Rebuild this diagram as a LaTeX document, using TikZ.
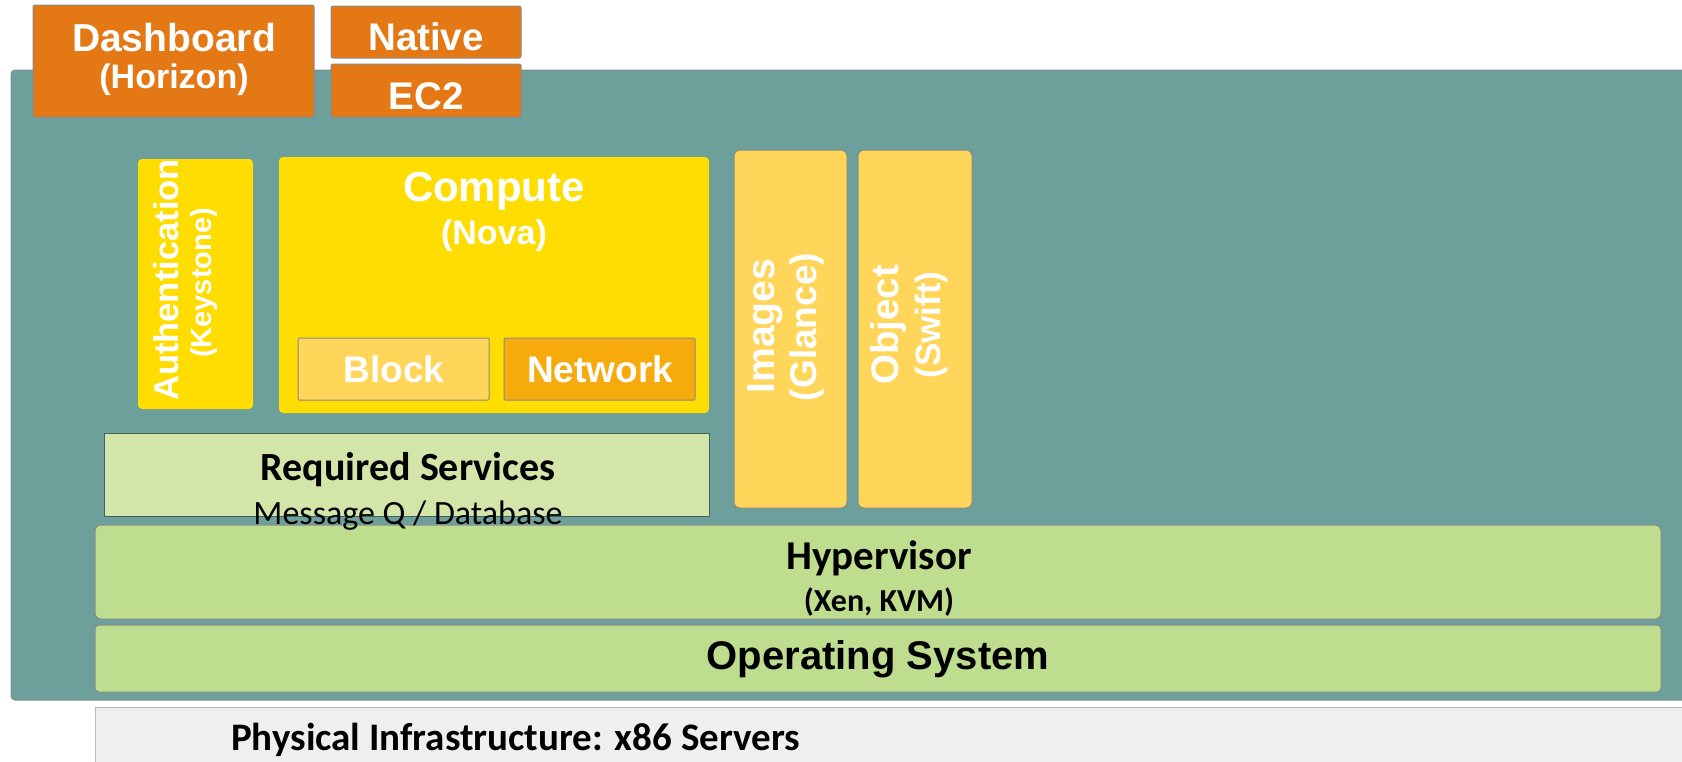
\documentclass[tikz,border=0pt]{standalone}
\usepackage{fontspec}
\setmainfont{Liberation Sans}
\newfontfamily\carlito{Carlito}
\definecolor{tealbg}{HTML}{6DA09A}
\definecolor{orangebox}{HTML}{E47815}
\definecolor{yellowbox}{HTML}{FFDD00}
\definecolor{lightyellow}{HTML}{FFD55A}
\definecolor{netorange}{HTML}{F6AA0C}
\definecolor{reqgreen}{HTML}{D3E5A8}
\definecolor{layergreen}{HTML}{BEDD8E}
\definecolor{physgray}{HTML}{EEF0EF}
\definecolor{edgegray}{HTML}{8A8A8A}
\newcommand{\fs}[1]{\fontsize{#1}{#1}\selectfont}
\tikzset{
  box/.style={draw=edgegray, line width=1pt, rounded corners=4pt, inner sep=0pt, outer sep=0pt},
  wtext/.style={text=white, font=\bfseries, inner sep=0pt},
  ktext/.style={text=black, inner sep=0pt},
}
\begin{document}
\begin{tikzpicture}[x=1pt,y=-1pt]
\useasboundingbox (0,0) rectangle (1682,761);
% background layer
\node[box, fill=tealbg, minimum width=1690pt, minimum height=630pt, anchor=north west] (teal) at (11,70) {};
\node[draw=edgegray!60, line width=1pt, fill=physgray, minimum width=1600pt, minimum height=60pt, anchor=north west, inner sep=0pt] (phys) at (95,707) {};
% top boxes
\node[box, rounded corners=2pt, fill=orangebox, minimum width=281pt, minimum height=112pt] (dash) at (173.5,61) {};
\node[box, rounded corners=2pt, fill=orangebox, minimum width=190pt, minimum height=52pt] (native) at (426,32) {};
\node[box, rounded corners=2pt, fill=orangebox, minimum width=190pt, minimum height=53pt] (ec2) at (426,90.5) {};
% services
\node[box, draw=none, fill=yellowbox, minimum width=115pt, minimum height=250pt] (auth) at (195.5,284) {};
\node[box, draw=none, fill=yellowbox, minimum width=430pt, minimum height=256pt] (compute) at (494,285) {};
\node[box, rounded corners=1pt, fill=lightyellow, minimum width=191pt, minimum height=62pt] (block) at (393.5,369) {};
\node[box, rounded corners=1pt, fill=netorange, minimum width=191pt, minimum height=62pt] (network) at (599.5,369) {};
\node[box, rounded corners=6pt, fill=lightyellow, minimum width=113pt, minimum height=358pt] (images) at (790.5,329) {};
\node[box, rounded corners=6pt, fill=lightyellow, minimum width=114pt, minimum height=358pt] (object) at (915,329) {};
\node[box, rounded corners=0pt, draw=tealbg!60!black, fill=reqgreen, minimum width=605pt, minimum height=83pt] (reqsvc) at (406.5,474.5) {};
\node[box, rounded corners=6pt, fill=layergreen, minimum width=1566pt, minimum height=94pt] (hyper) at (878,572) {};
\node[box, fill=layergreen, minimum width=1566pt, minimum height=67pt] (os) at (878,658.5) {};
% texts
\node[wtext, font=\bfseries\fs{39}] (dashT) at (174,37.5) {Dashboard};
\node[wtext, font=\bfseries\fs{34}] (dashS) at (174,80) {(Horizon)};
\node[wtext, font=\bfseries\fs{38.5}] (nativeT) at (426,37) {Native};
\node[wtext, font=\bfseries\fs{38.5}] (ec2T) at (426,96) {EC2};
\node[wtext, font=\bfseries\fs{42}] (computeT) at (494,191) {Compute};
\node[wtext, font=\bfseries\fs{34}] (computeS) at (494,236) {(Nova)};
\node[wtext, font=\bfseries\fs{37}] (blockT) at (394,369) {Block};
\node[wtext, font=\bfseries\fs{37}] (networkT) at (600,369) {Network};
\node[wtext, font=\bfseries\fs{34.5}, rotate=90] (authT) at (166,280) {Authentication};
\node[wtext, font=\bfseries\fs{29}, rotate=90] (authS) at (204,283) {(Keystone)};
\node[wtext, font=\bfseries\fs{39}, rotate=90] (imagesT) at (765,326) {Images};
\node[wtext, font=\bfseries\fs{37}, rotate=90] (imagesS) at (807,327) {(Glance)};
\node[wtext, font=\bfseries\fs{38.5}, rotate=90] (objectT) at (889,325) {Object};
\node[wtext, font=\bfseries\fs{35}, rotate=90] (objectS) at (931,325) {(Swift)};
\node[ktext, font=\carlito\bfseries\fs{40}] (reqT) at (408,470) {Required Services};
\node[ktext, font=\carlito\fs{34}] (reqS) at (408,516) {Message Q / Database};
\node[ktext, font=\carlito\bfseries\fs{41}] (hyperT) at (879,558) {Hypervisor};
\node[ktext, font=\carlito\bfseries\fs{32}] (hyperS) at (879,602) {(Xen, KVM)};
\node[ktext, font=\bfseries\fs{40}] (osT) at (878,659) {Operating System};
\node[ktext, font=\carlito\bfseries\fs{39}, anchor=base west] (physT) at (231,750) {Physical Infrastructure: x86 Servers};
\end{tikzpicture}
\end{document}
